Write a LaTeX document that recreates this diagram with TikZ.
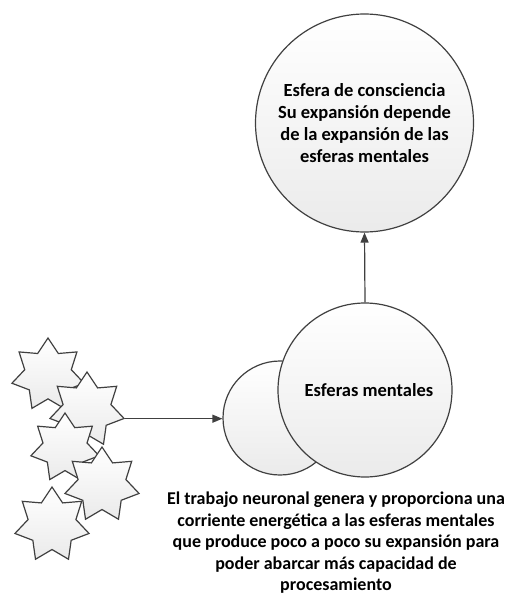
\documentclass[tikz,border=0pt]{standalone}
\usepackage{fontspec}
\setmainfont{Carlito}
\usetikzlibrary{shapes.geometric,arrows.meta,shadings}
\begin{document}
\begin{tikzpicture}[x=1pt,y=-1pt,
  outl/.style={draw=black!75, line width=1.2pt},
  sph/.style={circle, outl, top color=white, bottom color=black!8, inner sep=0pt, align=center, font=\bfseries\fontsize{18.5}{22}\selectfont},
  neur/.style={star, star points=7, star point ratio=1.55, outl, top color=white, bottom color=black!8, inner sep=0pt, minimum size=76pt},
  conn/.style={outl, -{Triangle[length=10pt,width=8pt]}},
  lbl/.style={align=center, font=\bfseries\fontsize{18}{21.5}\selectfont}]
\useasboundingbox (0,0) rectangle (513,596);
\node[sph, minimum size=218pt] (conc) at (364.5,123) {Esfera de consciencia\\Su expansión depende\\de la expansión de las\\esferas mentales};
\node[sph, minimum size=114pt] (small) at (280,418) {};
\node[sph, minimum size=174pt] (mental) at (365,390) {\hspace*{8pt}Esferas mentales};
\node[neur, minimum size=74pt] (s1) at (48,375) {};
\node[neur] (s2) at (87,410) {};
\node[neur, minimum size=70pt] (s3) at (65,448) {};
\node[neur] (s4) at (102,485) {};
\node[neur] (s5) at (52,525) {};
\draw[conn] (mental.north) -- (conc.south);
\draw[conn] (s2.outer point 6) -- (s2.outer point 6 -| small.west);
\node[lbl] (txt) at (336,543) {El trabajo neuronal genera y proporciona una\\corriente energética a las esferas mentales\\que produce poco a poco su expansión para\\poder abarcar más capacidad de\\procesamiento};
\end{tikzpicture}
\end{document}
